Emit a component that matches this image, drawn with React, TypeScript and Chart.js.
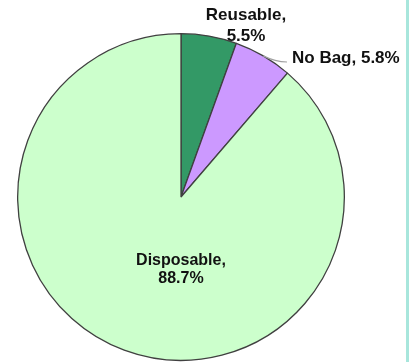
import React, { useEffect, useRef } from "react";
import { Chart, registerables } from "chart.js";

Chart.register(...registerables);

const categories = ["Reusable", "No Bag", "Disposable"];
const shares = [5.5, 5.8, 88.7];
const sliceColors = ["#339966", "#cc99ff", "#ccffcc"];

export default function App() {
  const ref = useRef<HTMLCanvasElement | null>(null);

  useEffect(() => {
    if (!ref.current) return;
    const labelPlugin = {
      id: "pieLabels",
      afterDatasetsDraw(chart: any) {
        const ctx = chart.ctx;
        const meta = chart.getDatasetMeta(0);
        const arcs = meta.data;
        if (!arcs.length) return;
        const cx = arcs[0].x;
        const cy = arcs[0].y;
        const R = arcs[0].outerRadius;
        ctx.save();
        ctx.fillStyle = "#111111";
        ctx.textAlign = "center";
        ctx.textBaseline = "middle";
        // Reusable (outside, top)
        ctx.font = "bold 17px 'Liberation Sans', Arial, sans-serif";
        ctx.fillText(categories[0] + ",", cx + 65, cy - 182);
        ctx.fillText(shares[0].toFixed(1) + "%", cx + 65, cy - 161);
        // No Bag with leader line
        const a1 = arcs[1];
        const mid = (a1.startAngle + a1.endAngle) / 2;
        const sx = cx + Math.cos(mid) * R;
        const sy = cy + Math.sin(mid) * R;
        ctx.strokeStyle = "#a0a0a0";
        ctx.lineWidth = 1.2;
        ctx.beginPath();
        ctx.moveTo(sx, sy);
        ctx.quadraticCurveTo(sx + 12, sy + 6, cx + 106, cy - 135);
        ctx.stroke();
        ctx.textAlign = "left";
        ctx.fillText(categories[1] + ", " + shares[1].toFixed(1) + "%", cx + 111, cy - 139);
        // Disposable (inside)
        ctx.textAlign = "center";
        ctx.font = "bold 16px 'Liberation Sans', Arial, sans-serif";
        ctx.fillText(categories[2] + ",", cx, cy + 64);
        ctx.fillText(shares[2].toFixed(1) + "%", cx, cy + 82);
        ctx.restore();
      },
    };
    const chart = new Chart(ref.current, {
      type: "pie",
      data: {
        labels: categories,
        datasets: [
          {
            data: shares,
            backgroundColor: sliceColors,
            borderColor: "#404040",
            borderWidth: 1.3,
          },
        ],
      },
      options: {
        responsive: false,
        animation: false,
        layout: { padding: { left: 17, right: 64, top: 33, bottom: 1 } },
        plugins: {
          legend: { display: false },
          tooltip: { enabled: false },
        },
      },
      plugins: [labelPlugin],
    });
    return () => chart.destroy();
  }, []);

  return (
    <div style={{ position: "fixed", left: 0, top: 0, width: 409, height: 362, background: "#ffffff" }}>
      <canvas ref={ref} width={409} height={362} style={{ display: "block" }} />
      <div style={{ position: "absolute", left: 406, top: 0, width: 3, height: 362, background: "#a8e6dc" }} />
    </div>
  );
}
